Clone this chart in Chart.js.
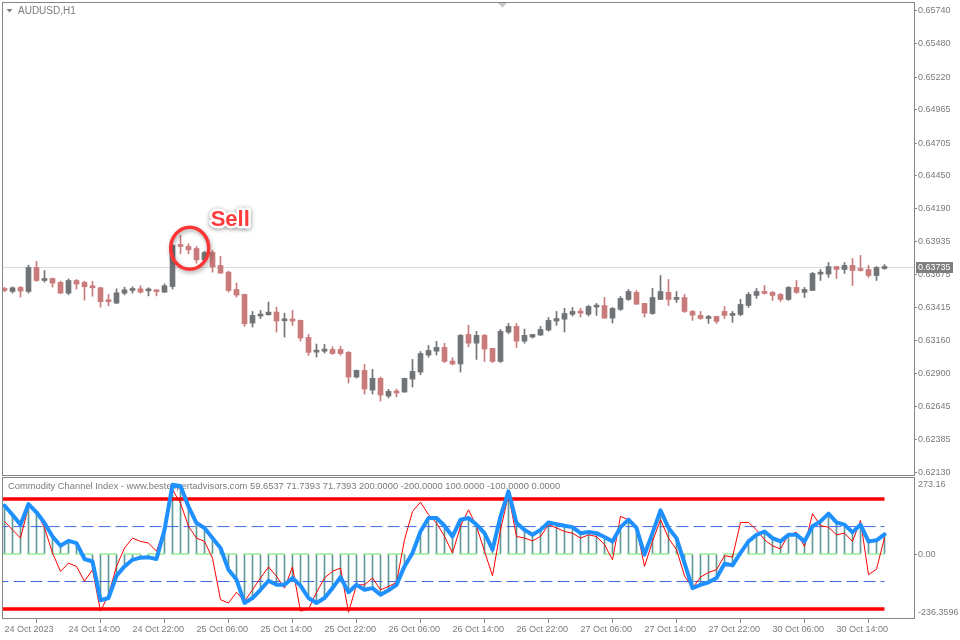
<!DOCTYPE html>
<html><head><meta charset="utf-8">
<script src="https://cdn.jsdelivr.net/npm/chart.js@4.4.0/dist/chart.umd.min.js"></script>
<style>
html,body{margin:0;padding:0;background:#fff;}
#wrap{position:relative;width:960px;height:640px;overflow:hidden;background:#fff;}
#c1{position:absolute;left:0;top:0;}
#c2{position:absolute;left:0;top:476px;}
</style></head><body>
<div id="wrap"><canvas id="c1" width="960" height="476"></canvas><canvas id="c2" width="960" height="164"></canvas></div>
<script>
// ---------------- DATA ----------------
const symbolTitle = "AUDUSD,H1";
const openP = [
0.63568,0.63544,0.63576,0.63544,0.63732,0.63630,0.63646,0.63615,0.63531,0.63630,
0.63615,0.63583,0.63573,0.63469,0.63453,0.63531,0.63552,0.63565,0.63549,0.63552,
0.63539,0.63583,0.63904,0.63896,0.63880,0.63792,0.63849,0.63748,0.63695,0.63560,
0.63521,0.63297,0.63352,0.63362,0.63383,0.63315,0.63320,0.63318,0.63185,0.63070,
0.63077,0.63091,0.63091,0.63068,0.62875,0.62927,0.62773,0.62865,0.62727,0.62763,
0.62758,0.62859,0.62914,0.63047,0.63077,0.63107,0.63000,0.62977,0.63208,0.63140,
0.63201,0.63099,0.62997,0.63227,0.63271,0.63156,0.63188,0.63203,0.63242,0.63313,
0.63327,0.63366,0.63391,0.63366,0.63422,0.63435,0.63336,0.63404,0.63482,0.63537,
0.63451,0.63372,0.63482,0.63537,0.63482,0.63497,0.63388,0.63357,0.63333,0.63349,
0.63388,0.63357,0.63364,0.63435,0.63513,0.63544,0.63537,0.63521,0.63482,0.63576,
0.63537,0.63552,0.63680,0.63680,0.63739,0.63716,0.63748,0.63716,0.63716,0.63669,0.63724];
const highP = [
0.63578,0.63581,0.63583,0.63750,0.63779,0.63708,0.63650,0.63625,0.63643,0.63638,
0.63625,0.63623,0.63578,0.63521,0.63565,0.63578,0.63581,0.63589,0.63573,0.63557,
0.63604,0.63912,0.63982,0.63917,0.63896,0.63859,0.63865,0.63818,0.63703,0.63610,
0.63524,0.63388,0.63396,0.63461,0.63422,0.63375,0.63396,0.63321,0.63208,0.63133,
0.63130,0.63113,0.63115,0.63075,0.62930,0.62974,0.62935,0.62875,0.62779,0.62781,
0.62866,0.63013,0.63075,0.63122,0.63154,0.63138,0.63027,0.63208,0.63279,0.63232,
0.63208,0.63099,0.63247,0.63294,0.63294,0.63250,0.63208,0.63271,0.63341,0.63388,
0.63412,0.63419,0.63412,0.63435,0.63451,0.63497,0.63419,0.63505,0.63560,0.63552,
0.63451,0.63568,0.63669,0.63638,0.63544,0.63521,0.63396,0.63388,0.63357,0.63351,
0.63427,0.63388,0.63482,0.63537,0.63568,0.63591,0.63544,0.63529,0.63583,0.63630,
0.63576,0.63693,0.63716,0.63771,0.63740,0.63771,0.63802,0.63826,0.63748,0.63740,0.63755];
const lowP = [
0.63542,0.63531,0.63500,0.63531,0.63623,0.63617,0.63578,0.63528,0.63518,0.63563,
0.63477,0.63507,0.63422,0.63432,0.63450,0.63518,0.63531,0.63531,0.63510,0.63510,
0.63536,0.63563,0.63839,0.63839,0.63766,0.63781,0.63695,0.63685,0.63539,0.63500,
0.63271,0.63266,0.63331,0.63359,0.63227,0.63188,0.63279,0.63156,0.63044,0.63031,
0.63062,0.63052,0.63047,0.62828,0.62867,0.62742,0.62742,0.62687,0.62711,0.62719,
0.62755,0.62796,0.62893,0.63031,0.63047,0.62989,0.62969,0.62914,0.63113,0.63013,
0.62997,0.62989,0.62989,0.63214,0.63106,0.63140,0.63180,0.63201,0.63234,0.63279,
0.63227,0.63352,0.63344,0.63352,0.63357,0.63334,0.63297,0.63396,0.63474,0.63443,
0.63344,0.63365,0.63480,0.63435,0.63458,0.63380,0.63318,0.63326,0.63294,0.63294,
0.63333,0.63302,0.63354,0.63419,0.63490,0.63523,0.63474,0.63466,0.63474,0.63529,
0.63497,0.63552,0.63630,0.63654,0.63646,0.63685,0.63591,0.63703,0.63654,0.63630,0.63716];
const closeP = [
0.63552,0.63573,0.63547,0.63732,0.63630,0.63646,0.63610,0.63531,0.63630,0.63602,
0.63581,0.63573,0.63464,0.63464,0.63534,0.63557,0.63565,0.63539,0.63557,0.63542,
0.63589,0.63904,0.63896,0.63870,0.63792,0.63849,0.63735,0.63688,0.63552,0.63516,
0.63292,0.63357,0.63362,0.63383,0.63313,0.63320,0.63313,0.63180,0.63068,0.63075,
0.63094,0.63059,0.63059,0.62875,0.62927,0.62781,0.62865,0.62734,0.62763,0.62750,
0.62865,0.62919,0.63059,0.63083,0.63107,0.62997,0.62977,0.63201,0.63140,0.63201,
0.63094,0.62997,0.63232,0.63271,0.63156,0.63201,0.63208,0.63247,0.63318,0.63333,
0.63372,0.63388,0.63375,0.63427,0.63435,0.63336,0.63412,0.63490,0.63544,0.63445,
0.63375,0.63497,0.63544,0.63482,0.63497,0.63388,0.63359,0.63333,0.63349,0.63310,
0.63357,0.63372,0.63443,0.63521,0.63544,0.63529,0.63513,0.63482,0.63576,0.63537,
0.63560,0.63685,0.63685,0.63739,0.63716,0.63748,0.63708,0.63708,0.63669,0.63732,0.63735];
const currentPrice = 0.63735;
const priceTicks = [0.65740,0.65480,0.65220,0.64965,0.64705,0.64450,0.64190,0.63935,0.63675,0.63415,0.63160,0.62900,0.62645,0.62385,0.62130];
const priceMin = 0.62109, priceMax = 0.65808;
const xTickLabels = ["24 Oct 2023","24 Oct 14:00","24 Oct 22:00","25 Oct 06:00","25 Oct 14:00","25 Oct 22:00","26 Oct 06:00","26 Oct 14:00","26 Oct 22:00","27 Oct 06:00","27 Oct 14:00","27 Oct 22:00","30 Oct 06:00","30 Oct 14:00"];
const xTickEvery = 8;
// CCI (blue = main, red = raw)
const cciMain = [
176,143,107,182,152,113,64,30,48,40,
-18,-27,-168,-160,-79,-45,-21,-13,-12,-18,
88,252,248,173,113,95,58,22,-57,-93,
-178,-160,-130,-97,-112,-112,-87,-115,-160,-178,
-160,-124,-84,-139,-112,-130,-124,-148,-132,-112,
-45,4,82,131,131,103,64,125,131,107,
76,16,137,228,113,88,70,88,115,109,
103,98,76,80,76,62,46,98,125,95,
-2,76,159,95,58,-33,-124,-112,-103,-87,
-35,-41,4,46,70,82,58,46,70,70,
46,101,119,147,115,107,79,107,46,50,71.7393];
const cciRaw = [
119,88,58,173,155,95,4,-63,-33,-45,
-99,-57,-208,-148,-45,22,58,46,40,10,
95,234,185,101,58,46,-15,-166,-178,-139,
-172,-130,-87,-47,-81,-124,-47,-208,-200,-140,
-87,-63,-51,-212,-112,-112,-87,-130,-118,-103,
52,155,189,143,113,64,4,101,161,101,
10,-79,88,216,64,58,48,64,107,95,
82,76,58,70,64,34,-21,137,125,95,
-45,46,125,58,16,-79,-124,-84,-67,-57,
-6,-11,115,115,88,52,30,19,70,79,
28,147,103,98,70,76,46,122,-75,-55,59.6537];
const cciLevelValues = [200,-200,100,-100,0];
const cciAxisMax = 273.16, cciAxisMin = -236.3596;
const cciTitle = "Commodity Channel Index - www.bestexpertadvisors.com";
const cciTitleValues = [59.6537,71.7393,71.7393,200,-200,100,-100,0];
const signalLabel = "Sell", signalIndex = 23.15, signalPrice = 0.63882;

// ---------------- STYLE ----------------
const FONT = '"Liberation Sans", Arial, sans-serif';
Chart.defaults.font.family = FONT;
Chart.defaults.font.size = 9;
const TXT = '#7a7a80', BORDER = '#858585';
const colBull = '#717477', colBear = '#c97b7b';
const XMIN = -0.3125, XMAX = 113.6875;
const idx = openP.map((_, i) => i);
const lastIdx = idx.length - 1;
const candleCol = idx.map(i => closeP[i] >= openP[i] ? colBull : colBear);
function noPad(s) { s.paddingTop = 0; s.paddingBottom = 0; s.paddingLeft = 0; s.paddingRight = 0; }

const mainPlugin = {
  id: 'mainDecor',
  beforeDatasetsDraw(chart) {
    const {ctx, chartArea: ca, scales: {y}} = chart;
    const py = Math.round(y.getPixelForValue(currentPrice)) + 0.5;
    ctx.save();
    ctx.strokeStyle = '#dcdcdc'; ctx.lineWidth = 1;
    ctx.beginPath(); ctx.moveTo(ca.left, py); ctx.lineTo(ca.right, py); ctx.stroke();
    ctx.restore();
  },
  afterDatasetsDraw(chart) {
    const {ctx, scales: {x, y}} = chart;
    const cx = x.getPixelForValue(signalIndex), cy = y.getPixelForValue(signalPrice);
    ctx.save();
    ctx.shadowColor = 'rgba(0,0,0,0.35)'; ctx.shadowBlur = 4; ctx.shadowOffsetX = 1; ctx.shadowOffsetY = 2;
    ctx.strokeStyle = '#ff3535'; ctx.lineWidth = 3.5;
    ctx.beginPath(); ctx.ellipse(cx, cy, 19, 21, 0, 0, Math.PI * 2); ctx.stroke();
    ctx.font = 'bold 22px ' + FONT;
    ctx.textAlign = 'center'; ctx.textBaseline = 'middle';
    ctx.lineJoin = 'round'; ctx.lineWidth = 5; ctx.strokeStyle = '#ffffff';
    ctx.shadowColor = 'rgba(0,0,0,0.45)'; ctx.shadowBlur = 4; ctx.shadowOffsetX = 0; ctx.shadowOffsetY = 1;
    ctx.strokeText(signalLabel, cx + 40.5, cy - 28);
    ctx.shadowColor = 'transparent';
    ctx.fillStyle = '#ff3b3b';
    ctx.fillText(signalLabel, cx + 40.5, cy - 28);
    ctx.restore();
  },
  afterDraw(chart) {
    const {ctx, chartArea: ca, scales: {y}} = chart;
    ctx.save();
    ctx.strokeStyle = BORDER; ctx.lineWidth = 1;
    ctx.strokeRect(ca.left + 0.5, ca.top + 0.5, ca.right - ca.left, ca.bottom - ca.top);
    // title
    ctx.fillStyle = '#808080';
    ctx.beginPath(); ctx.moveTo(ca.left + 4.5, ca.top + 7); ctx.lineTo(ca.left + 10.5, ca.top + 7); ctx.lineTo(ca.left + 7.5, ca.top + 10.5); ctx.closePath(); ctx.fill();
    ctx.fillStyle = TXT; ctx.font = '10px ' + FONT; ctx.textAlign = 'left'; ctx.textBaseline = 'middle';
    ctx.fillText(symbolTitle, ca.left + 16, ca.top + 9);
    // shift marker
    ctx.fillStyle = '#c8c8c8';
    const mx = ca.left + 500.5;
    ctx.beginPath(); ctx.moveTo(mx - 4.5, ca.top + 1); ctx.lineTo(mx + 4.5, ca.top + 1); ctx.lineTo(mx, ca.top + 5.5); ctx.closePath(); ctx.fill();
    // price box
    const py = y.getPixelForValue(currentPrice);
    ctx.fillStyle = '#7f7f7f';
    ctx.fillRect(ca.right + 2, Math.round(py) - 5, 37, 11);
    ctx.fillStyle = '#ffffff'; ctx.font = '9px ' + FONT;
    ctx.fillText(currentPrice.toFixed(5), ca.right + 4, Math.round(py) + 0.5);
    ctx.restore();
  }
};

new Chart(document.getElementById('c1'), {
  type: 'bar',
  data: { datasets: [
    { label: 'body', data: idx.map(i => ({x: i, y: [openP[i], closeP[i]]})), backgroundColor: candleCol,
      barThickness: 5, minBarLength: 2, grouped: false, borderWidth: 0, order: 0 },
    { label: 'wick', data: idx.map(i => ({x: i, y: [lowP[i], highP[i]]})), backgroundColor: candleCol,
      barThickness: 1, grouped: false, borderWidth: 0, order: 1 }
  ]},
  options: {
    responsive: false, animation: false, devicePixelRatio: 1,
    layout: { padding: { left: 2, top: 2, right: 0, bottom: 1 } },
    plugins: { legend: { display: false }, tooltip: { enabled: false } },
    scales: {
      x: { type: 'linear', min: XMIN, max: XMAX, offset: false, display: false },
      y: { position: 'right', min: priceMin, max: priceMax,
        afterFit(s) { s.width = 46; noPad(s); },
        afterBuildTicks(s) { s.ticks = priceTicks.map(v => ({value: v})); },
        ticks: { autoSkip: false, callback: v => Number(v).toFixed(5), color: TXT, padding: 1, font: { size: 9 } },
        grid: { drawOnChartArea: false, drawTicks: true, tickLength: 3, color: BORDER },
        border: { display: false } }
    }
  },
  plugins: [mainPlugin]
});

const cciPlugin = {
  id: 'cciDecor',
  beforeDatasetsDraw(chart) {
    const {ctx, chartArea: ca} = chart;
    ctx.save();
    ctx.fillStyle = TXT; ctx.font = '9.35px ' + FONT; ctx.textAlign = 'left'; ctx.textBaseline = 'middle';
    const txt = cciTitle + ' ' + cciTitleValues.map(v => v.toFixed(4)).join(' ');
    ctx.fillText(txt, ca.left + 6, ca.top + 7.5);
    ctx.restore();
  },
  afterDraw(chart) {
    const {ctx, chartArea: ca} = chart;
    ctx.save();
    ctx.strokeStyle = BORDER; ctx.lineWidth = 1;
    ctx.strokeRect(ca.left + 0.5, ca.top - 1.5, ca.right - ca.left, ca.bottom - ca.top + 1);
    ctx.fillStyle = TXT; ctx.font = '9px ' + FONT; ctx.textAlign = 'left'; ctx.textBaseline = 'middle';
    ctx.fillText(cciAxisMax.toFixed(2), ca.right + 4, ca.top + 5.5);
    ctx.fillText(cciAxisMin.toFixed(4), ca.right + 4, ca.bottom - 6);
    ctx.restore();
  }
};

const levelStyles = [
  { borderColor: '#ff0000', borderWidth: 3.5, borderDash: [] },
  { borderColor: '#ff0000', borderWidth: 3.5, borderDash: [] },
  { borderColor: '#3f68e0', borderWidth: 1, borderDash: [12, 5] },
  { borderColor: '#3f68e0', borderWidth: 1, borderDash: [12, 5] },
  { borderColor: '#98ee98', borderWidth: 1.5, borderDash: [18, 6], borderDashOffset: 17.5 }
];
const levelSets = cciLevelValues.map((v, k) => Object.assign({
  type: 'line', label: 'level ' + v,
  data: [{x: -1, y: v}, {x: lastIdx, y: v}],
  pointRadius: 0, tension: 0, clip: 0, order: 2
}, levelStyles[k]));

new Chart(document.getElementById('c2'), {
  type: 'line',
  data: { datasets: [
    { type: 'line', label: 'CCI', data: idx.map(i => ({x: i, y: cciMain[i]})), borderColor: '#1e90ff', borderWidth: 4,
      pointRadius: 0, tension: 0, borderJoinStyle: 'round', borderCapStyle: 'round', order: 0 },
    { type: 'line', label: 'CCI raw', data: idx.map(i => ({x: i, y: cciRaw[i]})), borderColor: '#ff0000', borderWidth: 1,
      pointRadius: 0, tension: 0, order: 1 },
    ...levelSets,
    { type: 'bar', label: 'hist', data: idx.map(i => ({x: i, y: [0, cciMain[i]]})), backgroundColor: '#5f9a98',
      barThickness: 1, grouped: false, borderWidth: 0, order: 3 }
  ]},
  options: {
    responsive: false, animation: false, devicePixelRatio: 1,
    layout: { padding: { left: 2, top: 3, right: 0, bottom: 0 } },
    plugins: { legend: { display: false }, tooltip: { enabled: false } },
    scales: {
      x: { type: 'linear', min: XMIN, max: XMAX, offset: false, position: 'bottom',
        afterFit(s) { s.height = 21; noPad(s); },
        afterBuildTicks(s) { s.ticks = xTickLabels.map((_, k) => ({value: k * xTickEvery})); },
        ticks: { autoSkip: false, maxRotation: 0, minRotation: 0, align: 'start', padding: 1, color: TXT,
          callback: (v, i) => xTickLabels[i], font: { size: 9 } },
        grid: { drawOnChartArea: false, drawTicks: true, tickLength: 4, color: BORDER },
        border: { display: false } },
      y: { position: 'right', min: cciAxisMin, max: cciAxisMax,
        afterFit(s) { s.width = 46; noPad(s); },
        afterBuildTicks(s) { s.ticks = [{value: 0}]; },
        ticks: { autoSkip: false, callback: v => Number(v).toFixed(2), color: TXT, padding: 1, font: { size: 9 } },
        grid: { drawOnChartArea: false, drawTicks: true, tickLength: 3, color: BORDER },
        border: { display: false } }
    }
  },
  plugins: [cciPlugin]
});
</script>
</body></html>
